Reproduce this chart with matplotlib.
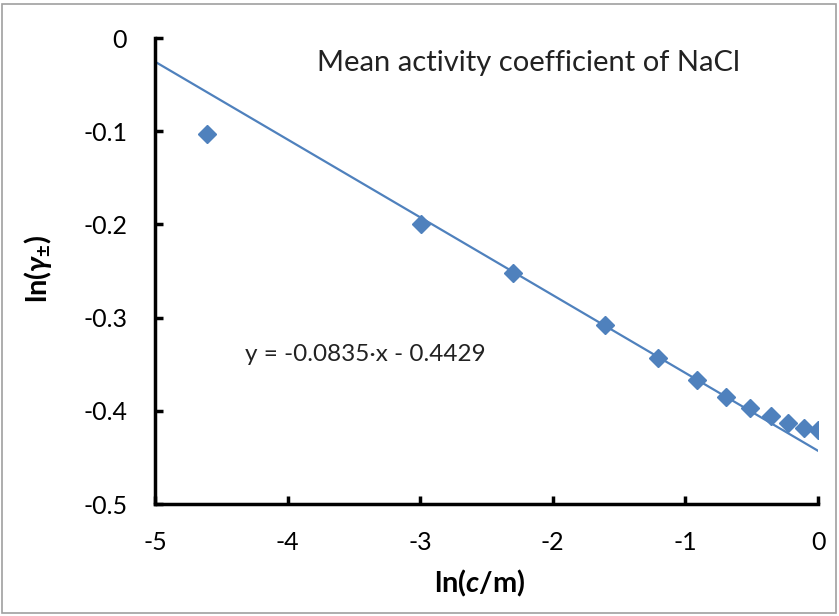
import matplotlib.pyplot as plt
import numpy as np
from matplotlib.patches import Rectangle

# ln(c/m) et ln(gamma+-) pour NaCl
ln_c = [-4.605, -2.996, -2.303, -1.609, -1.204, -0.916, -0.693, -0.511, -0.357, -0.223, -0.105, 0.0]
ln_gamma = [-0.103, -0.200, -0.252, -0.308, -0.343, -0.367, -0.385, -0.397, -0.406, -0.413, -0.418, -0.421]

# droite de tendance affichée
pente = -0.0835
ordonnee = -0.4429
x_tendance = [-5, 0]

xticks = [-5, -4, -3, -2, -1, 0]
yticks = [-0.5, -0.4, -0.3, -0.2, -0.1, 0]
ytick_labels = ['-0.5', '-0.4', '-0.3', '-0.2', '-0.1', '0']

bleu = '#4f81bd'

plt.rcParams['font.family'] = ['Lato', 'DejaVu Sans']
plt.rcParams['mathtext.fontset'] = 'custom'
plt.rcParams['mathtext.rm'] = 'Lato:weight=bold'
plt.rcParams['mathtext.it'] = 'Lato:style=italic:weight=bold'
plt.rcParams['mathtext.bf'] = 'Lato:weight=bold'

fig = plt.figure(figsize=(8.39, 6.16), dpi=100)
ax = fig.add_axes([155 / 839, 1 - 504 / 616, 663 / 839, 466 / 616])

# cadre gris autour du graphique
fig.patches.append(Rectangle((2 / 839, 3 / 616), 834 / 839, 609 / 616,
                             transform=fig.transFigure, fill=False,
                             edgecolor='#a0a0a0', linewidth=1.2))

xt = np.array(x_tendance)
ax.plot(xt, pente * xt + ordonnee, color=bleu, linewidth=1.6, zorder=2)
ax.plot(ln_c, ln_gamma, linestyle='none', marker='D', markersize=9.5,
        color=bleu, zorder=3)

ax.set_xlim(-5, 0)
ax.set_ylim(-0.5, 0)
ax.set_xticks(xticks)
ax.set_xticklabels([str(t) for t in xticks])
ax.set_yticks(yticks)
ax.set_yticklabels(ytick_labels)

for s in ['top', 'right']:
    ax.spines[s].set_visible(False)
for s in ['left', 'bottom']:
    ax.spines[s].set_linewidth(2.5)
    ax.spines[s].set_clip_on(False)

ax.tick_params(direction='in', length=6, width=2.5, labelsize=18, colors='black')
ax.tick_params(axis='y', pad=20)
ax.tick_params(axis='x', pad=19.5)

ax.text(-3.78, -0.027, 'Mean activity coefficient of NaCl', fontsize=21,
        color='#222222', va='center', ha='left')
ax.text(-4.32, -0.34, 'y = -0.0835\u00b7x - 0.4429', fontsize=17.5,
        color='#222222', va='center', ha='left')

fig.text(480 / 839, 1 - 583 / 616, r'ln($c$/m)', fontsize=21, fontweight='bold',
         ha='center', va='center')
fig.text(38 / 839, 1 - 269 / 616, r'ln($\gamma_{\pm}$)', fontsize=21,
         fontweight='bold', rotation=90, ha='center', va='center')

plt.savefig('out.png', dpi=100)
